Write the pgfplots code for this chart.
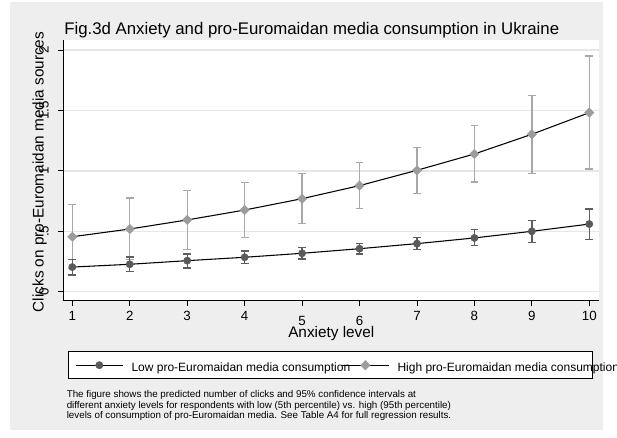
\documentclass[border=0pt]{standalone}
\usepackage{fontspec}
\setmainfont{Liberation Sans}
\usepackage{pgfplots}
\pgfplotsset{compat=1.18}
\usepackage{pgfplotstable}
\definecolor{bg}{HTML}{EEEEEE}
\definecolor{gridc}{HTML}{E6E6E6}
\definecolor{lowc}{HTML}{5A5A5A}
\definecolor{lowci}{HTML}{5E5E5E}
\definecolor{highc}{HTML}{9C9C9C}
\definecolor{highci}{HTML}{A8A8A8}

\pgfplotstableread{
x y ep em
1 0.204 0.064 0.066
2 0.227 0.060 0.061
3 0.257 0.055 0.061
4 0.285 0.052 0.050
5 0.318 0.047 0.047
6 0.356 0.044 0.044
7 0.398 0.049 0.050
8 0.445 0.068 0.064
9 0.500 0.088 0.091
10 0.560 0.125 0.129
}\lowdata

\pgfplotstableread{
x y ep em
1 0.455 0.265 0.265
2 0.519 0.257 0.250
3 0.594 0.242 0.242
4 0.676 0.226 0.226
5 0.770 0.207 0.207
6 0.878 0.190 0.190
7 1.005 0.187 0.190
8 1.140 0.234 0.232
9 1.303 0.319 0.322
10 1.482 0.469 0.466
}\highdata

\begin{document}
\begin{tikzpicture}
\fill[white] (0,0) rectangle (462.75pt,-327.75pt);
\fill[bg] (7.5pt,-1.5pt) rectangle (452.25pt,-322.5pt);
\node[anchor=base west, inner sep=0pt, font=\fontsize{12.6}{14}\selectfont] at (48pt,-25.7pt) {Fig.3d Anxiety and pro-Euromaidan media consumption in Ukraine};

\begin{axis}[
  at={(47.475pt,-225.525pt)}, anchor=south west,
  scale only axis, width=402pt, height=195.5pt,
  xmin=0.843, xmax=10.174, ymin=-0.0745, ymax=2.083,
  axis x line*=bottom, axis y line*=left,
  axis line style={-, black, line width=0.75pt},
  axis background/.style={fill=white},
  xtick={1,2,3,4,5,6,7,8,9,10},
  xticklabels={1,2,3,4,\raisebox{-3.5pt}{5},\raisebox{-3.5pt}{6},7,8,9,10},
  ytick={0,0.5,1,1.5,2},
  yticklabels={0,.5,1,1.5,2},
  ymajorgrids, xmajorgrids=false,
  major grid style={gridc, line width=1.1pt},
  tick align=outside, major tick length=3.75pt,
  tick style={black, line width=0.6pt},
  ticklabel style={font=\fontsize{10}{11}\selectfont},
  xticklabel style={anchor=base, yshift=-11pt},
  yticklabel style={anchor=base, xshift=-7.25pt, rotate=90},
  xlabel={Anxiety level},
  ylabel={Clicks on pro-Euromaidan media sources},
  every axis x label/.style={at={(axis description cs:0.5,-0.143)}, anchor=base, font=\fontsize{11.5}{13}\selectfont},
  every axis y label/.style={at={(axis description cs:-0.0369,0.4937)}, rotate=90, anchor=base, font=\fontsize{11.5}{13}\selectfont},
  legend columns=2,
  legend cell align=left,
  legend image code/.code={\draw[mark repeat=2,mark phase=2,#1] plot coordinates {(0pt,0pt) (17.5pt,0pt) (35pt,0pt)};},
  legend style={at={(0.0093,-0.193)}, anchor=north west, draw=black, line width=0.75pt, fill=white,
    font=\fontsize{9}{11}\selectfont, inner xsep=5pt, inner ysep=0pt,
    cells={anchor=center}, nodes={inner sep=0pt, text height=15pt, text depth=5.5pt},
    /tikz/every odd column/.append style={column sep=6.25pt},
    /tikz/every even column/.append style={column sep=0pt}},
]
\addplot[only marks, mark=none, forget plot,
  error bars/.cd, y dir=both, y explicit,
  error bar style={color=highci, line width=1pt},
  error mark options={rotate=90, highci, mark size=2.9pt, line width=1pt}]
  table[x=x, y=y, y error plus=ep, y error minus=em] {\highdata};
\addplot[only marks, mark=none, forget plot,
  error bars/.cd, y dir=both, y explicit,
  error bar style={color=lowci, line width=1pt},
  error mark options={rotate=90, lowci, mark size=2.9pt, line width=1pt}]
  table[x=x, y=y, y error plus=ep, y error minus=em] {\lowdata};
\addplot[black, line width=0.8pt, mark=*, mark size=2.75pt, mark options={solid, fill=lowc, draw=lowc, line width=0.3pt}]
  table[x=x, y=y] {\lowdata};
\addlegendentry{\makebox[157.5pt][l]{Low pro-Euromaidan media consumption}}
\addplot[black, line width=0.8pt, mark=square*, mark size=2.5pt, mark options={solid, rotate=45, fill=highc, draw=highc, line width=0.3pt}]
  table[x=x, y=y] {\highdata};
\addlegendentry{\makebox[141.2pt][l]{High pro-Euromaidan media consumption}}
\end{axis}

\begin{scope}[every node/.style={anchor=base west, inner sep=0pt, font=\fontsize{7.35}{8}\selectfont}]
\node at (49.9pt,-298pt) {The figure shows the predicted number of clicks and 95\% confidence intervals at};
\node at (49.9pt,-306pt) {different anxiety levels for respondents with low (5th percentile) vs. high (95th percentile)};
\node at (49.9pt,-314pt) {levels of consumption of pro-Euromaidan media. See Table A4 for full regression results.};
\end{scope}
\pgfresetboundingbox
\path[use as bounding box] (0,0) rectangle (462.75pt,-327.75pt);
\end{tikzpicture}
\end{document}
